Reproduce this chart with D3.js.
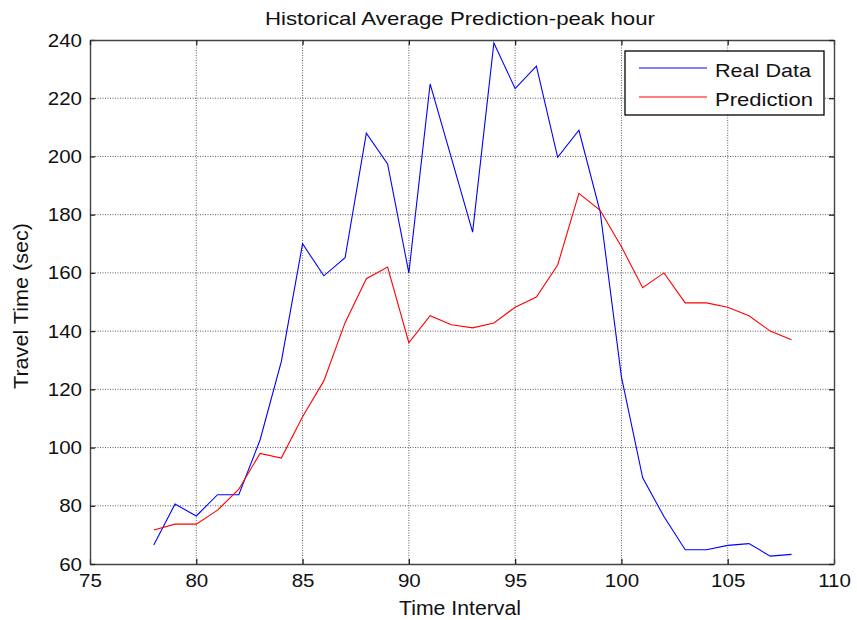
<!DOCTYPE html>
<html>
<head>
<meta charset="utf-8">
<script src="https://cdn.jsdelivr.net/npm/d3@7"></script>
<style>
  html, body { margin: 0; padding: 0; background: #fff; }
  svg { display: block; font-family: "Liberation Sans", Arial, sans-serif; }
</style>
</head>
<body>
<svg id="chart" width="857" height="620"></svg>
<script>
// Time intervals (x) and travel times in seconds
const intervals = [78, 79, 80, 81, 82, 83, 84, 85, 86, 87, 88, 89, 90, 91, 92, 93,
                   94, 95, 96, 97, 98, 99, 100, 101, 102, 103, 104, 105, 106, 107, 108];
const realData = [66.5, 80.6, 76.5, 83.8, 83.8, 102.6, 129.5, 170, 159, 165.2, 208, 197.4,
                  160, 224.9, 199.5, 174, 239, 223.3, 231, 199.7, 209, 181, 124.3, 89.6,
                  76.3, 64.9, 64.9, 66.4, 67, 62.7, 63.3];
const prediction = [71.7, 73.7, 73.7, 78.5, 85.7, 98, 96.4, 110.6, 122.9, 142.9, 158, 162,
                    136, 145.3, 142.2, 141.1, 142.8, 148.2, 151.7, 162.7, 187.3, 181.5, 169,
                    154.9, 160, 149.7, 149.7, 148.2, 145.3, 140, 137];
const xTicks = [75, 80, 85, 90, 95, 100, 105, 110];
const yTicks = [60, 80, 100, 120, 140, 160, 180, 200, 220, 240];
const seriesNames = ["Real Data", "Prediction"];
const seriesColors = ["#0000ff", "#ff0000"];

const svg = d3.select("#chart");
const m = { left: 90, right: 834, top: 40, bottom: 564 };

const x = d3.scaleLinear().domain([75, 110]).range([m.left, m.right]);
const y = d3.scaleLinear().domain([60, 240]).range([m.bottom, m.top]);

// Widen text horizontally by a factor (the glyphs are drawn slightly wide)
function widen(sel, k) {
  sel.each(function () {
    const w = this.getComputedTextLength();
    d3.select(this).attr("textLength", w * k).attr("lengthAdjust", "spacingAndGlyphs");
  });
}

// Grid (dotted)
const grid = svg.append("g").attr("stroke", "#000").attr("stroke-width", 0.8)
  .attr("stroke-dasharray", "1,1.5").attr("opacity", 0.8);
xTicks.slice(1, -1).forEach(t => {
  grid.append("line").attr("x1", x(t)).attr("x2", x(t)).attr("y1", m.top).attr("y2", m.bottom);
});
yTicks.slice(1, -1).forEach(t => {
  grid.append("line").attr("x1", m.left).attr("x2", m.right).attr("y1", y(t)).attr("y2", y(t));
});

// Axes (ticks inside the box on all four sides)
const tickLen = 5;
const fontSize = 19;
const axB = svg.append("g").attr("transform", `translate(0,${m.bottom})`)
  .call(d3.axisBottom(x).tickValues(xTicks).tickSizeInner(-tickLen).tickSizeOuter(0).tickPadding(10));
const axL = svg.append("g").attr("transform", `translate(${m.left},0)`)
  .call(d3.axisLeft(y).tickValues(yTicks).tickSizeInner(-tickLen).tickSizeOuter(0).tickPadding(8));
const axT = svg.append("g").attr("transform", `translate(0,${m.top})`)
  .call(d3.axisTop(x).tickValues(xTicks).tickSizeInner(-tickLen).tickSizeOuter(0).tickFormat(""));
const axR = svg.append("g").attr("transform", `translate(${m.right},0)`)
  .call(d3.axisRight(y).tickValues(yTicks).tickSizeInner(-tickLen).tickSizeOuter(0).tickFormat(""));
[axB, axL, axT, axR].forEach(a => {
  a.selectAll(".domain").attr("stroke", "#444").attr("stroke-width", 1.4);
  a.selectAll(".tick line").attr("stroke", "#222").attr("stroke-width", 1.3);
  a.selectAll("text").attr("font-size", fontSize).attr("fill", "#111")
    .attr("font-family", "Liberation Sans, Arial, sans-serif");
});
widen(axB.selectAll("text"), 1.08);
widen(axL.selectAll("text"), 1.08);

// Series lines
const line = d3.line().x((d, i) => x(intervals[i])).y(d => y(d));
[realData, prediction].forEach((s, k) => {
  svg.append("path").datum(s).attr("fill", "none").attr("stroke", seriesColors[k])
    .attr("stroke-width", 1.1).attr("d", line);
});

// Legend
const lg = svg.append("g");
lg.append("rect").attr("x", 625).attr("y", 51).attr("width", 199).attr("height", 64)
  .attr("fill", "#fff").attr("stroke", "#000").attr("stroke-width", 1.3);
const legendWidths = [96, 98];
seriesNames.forEach((n, k) => {
  const ly = 68 + k * 29;
  lg.append("line").attr("x1", 639).attr("x2", 707).attr("y1", ly).attr("y2", ly)
    .attr("stroke", seriesColors[k]).attr("stroke-width", 1.1);
  lg.append("text").attr("x", 715).attr("y", ly + 9).attr("font-size", fontSize)
    .attr("fill", "#111").attr("textLength", legendWidths[k])
    .attr("lengthAdjust", "spacingAndGlyphs").text(n);
});

// Title and axis labels
svg.append("text").attr("x", 460).attr("y", 25).attr("text-anchor", "middle")
  .attr("font-size", 19).attr("fill", "#111")
  .attr("textLength", 390).attr("lengthAdjust", "spacingAndGlyphs")
  .text("Historical Average Prediction-peak hour");
svg.append("text").attr("x", 460).attr("y", 615).attr("text-anchor", "middle")
  .attr("font-size", 19.5).attr("fill", "#111")
  .attr("textLength", 122).attr("lengthAdjust", "spacingAndGlyphs")
  .text("Time Interval");
svg.append("text").attr("transform", "translate(28,306) rotate(-90)")
  .attr("text-anchor", "middle").attr("font-size", 20).attr("fill", "#111")
  .attr("textLength", 166).attr("lengthAdjust", "spacingAndGlyphs")
  .text("Travel Time (sec)");
</script>
</body>
</html>
